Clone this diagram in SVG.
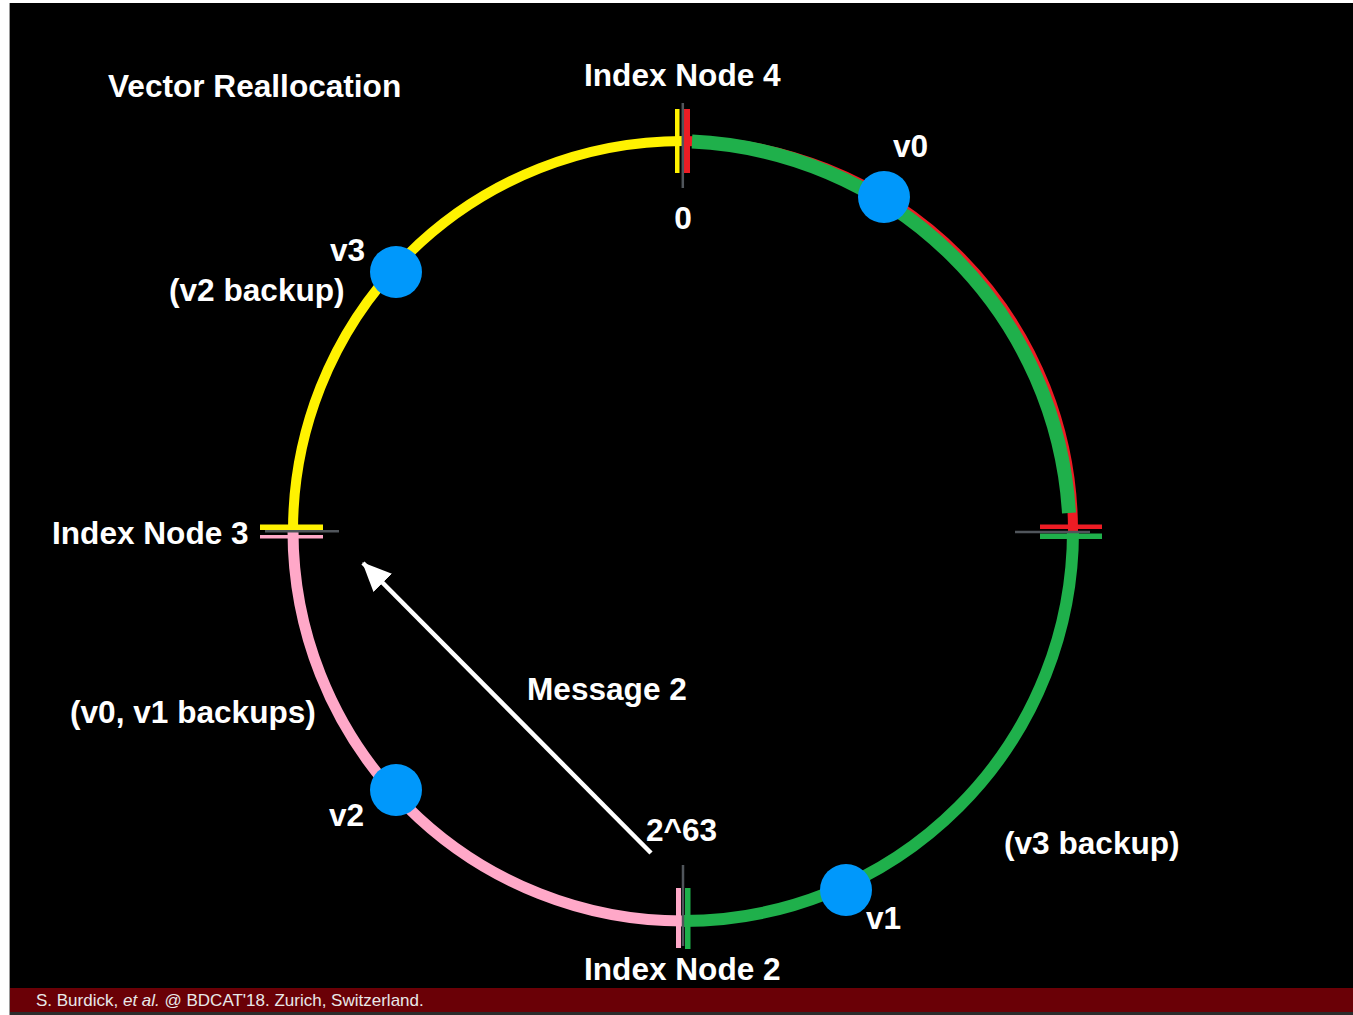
<svg xmlns="http://www.w3.org/2000/svg" width="1353" height="1015" viewBox="0 0 1353 1015">
  <style>
    .lbl { font-family: "Liberation Sans", Arial, Helvetica, sans-serif; font-weight: bold; font-size: 31.6px; fill: #ffffff; }
    .foot { font-family: "Liberation Sans", Arial, Helvetica, sans-serif; font-size: 17px; fill: #e8e8e8; }
    .ring { fill: none; stroke-linecap: butt; }
    .axis { stroke: #50555b; stroke-width: 2.5; }
    .vec { fill: #0098fb; }
  </style>
  <defs>
    <marker id="arrowHead" markerUnits="userSpaceOnUse" markerWidth="30" markerHeight="26" refX="28" refY="13" orient="auto">
      <path d="M0,0 L29,13 L0,26 Z" fill="#ffffff"/>
    </marker>
  </defs>

  <!-- slide frame -->
  <rect x="0" y="0" width="1353" height="1015" fill="#ffffff"/>
  <rect x="10" y="3" width="1343" height="985" fill="#000000"/>
  <line x1="9.5" y1="3" x2="9.5" y2="1015" stroke="#9a9a9a" stroke-width="1"/>
  <rect x="10" y="988" width="1343" height="24" fill="#6a0006"/>
  <rect x="10" y="1012" width="1343" height="3" fill="#2b2b2b"/>

  <!-- hash ring segments -->
  <g id="ring">
    <path class="ring" d="M683,141 A390,390 0 0 1 1073,531" stroke="#ee1c24" stroke-width="10"/>
    <path class="ring" d="M692,141.5 A396,396 0 0 1 1069,513" stroke="#1fb04b" stroke-width="14"/>
    <path class="ring" d="M1073,531 A390,390 0 0 1 683,921" stroke="#1fb04b" stroke-width="12"/>
    <path class="ring" d="M683,141 A390,390 0 0 0 293,531" stroke="#fff200" stroke-width="10"/>
    <path class="ring" d="M293,531 A390,390 0 0 0 683,921" stroke="#ffa8c8" stroke-width="11"/>
  </g>

  <!-- index node boundaries -->
  <g id="node4-boundary">
    <rect x="675" y="109" width="4.5" height="64" fill="#fff200"/>
    <rect x="684" y="109" width="6" height="64" fill="#ee1c24"/>
    <line class="axis" x1="682.8" y1="103" x2="682.8" y2="188"/>
  </g>
  <g id="right-boundary">
    <rect x="1040" y="524.5" width="62" height="4.5" fill="#ee1c24"/>
    <rect x="1040" y="533.5" width="62" height="5.5" fill="#1fb04b"/>
    <line class="axis" x1="1015" y1="532" x2="1090" y2="532"/>
  </g>
  <g id="node3-boundary">
    <rect x="260" y="524.5" width="63" height="5.5" fill="#fff200"/>
    <rect x="260" y="535" width="63" height="3.5" fill="#ffa8c8"/>
    <line class="axis" x1="265" y1="531.2" x2="339" y2="531.2"/>
  </g>
  <g id="node2-boundary">
    <rect x="676" y="888" width="5" height="60" fill="#ffa8c8"/>
    <rect x="685" y="888" width="5.5" height="61" fill="#1fb04b"/>
    <line class="axis" x1="683" y1="865" x2="683" y2="946"/>
  </g>

  <!-- vectors on the ring -->
  <g id="v0"><circle class="vec" cx="884" cy="197" r="26"/><text class="lbl" x="893" y="157">v0</text></g>
  <g id="v3"><circle class="vec" cx="396" cy="272" r="26"/><text class="lbl" x="330" y="261">v3</text></g>
  <g id="v2"><circle class="vec" cx="396" cy="790" r="26"/><text class="lbl" x="329" y="826">v2</text></g>
  <g id="v1"><circle class="vec" cx="846" cy="890" r="26"/><text class="lbl" x="866" y="929">v1</text></g>

  <!-- message -->
  <g id="connectors">
    <line x1="651" y1="853" x2="363" y2="563" stroke="#ffffff" stroke-width="4.5" marker-end="url(#arrowHead)"/>
  </g>

  <!-- labels -->
  <g id="labels">
    <text class="lbl" x="108" y="97">Vector Reallocation</text>
    <text class="lbl" x="584" y="86">Index Node 4</text>
    <text class="lbl" x="683" y="229" text-anchor="middle">0</text>
    <text class="lbl" x="169" y="301">(v2 backup)</text>
    <text class="lbl" x="52" y="544">Index Node 3</text>
    <text class="lbl" x="527" y="700">Message 2</text>
    <text class="lbl" x="70" y="723">(v0, v1 backups)</text>
    <text class="lbl" x="646" y="841">2^63</text>
    <text class="lbl" x="1004" y="854">(v3 backup)</text>
    <text class="lbl" x="584" y="980">Index Node 2</text>
  </g>

  <text class="foot" x="36" y="1005.5">S. Burdick, <tspan font-style="italic">et al.</tspan> @ BDCAT'18. Zurich, Switzerland.</text>
</svg>
